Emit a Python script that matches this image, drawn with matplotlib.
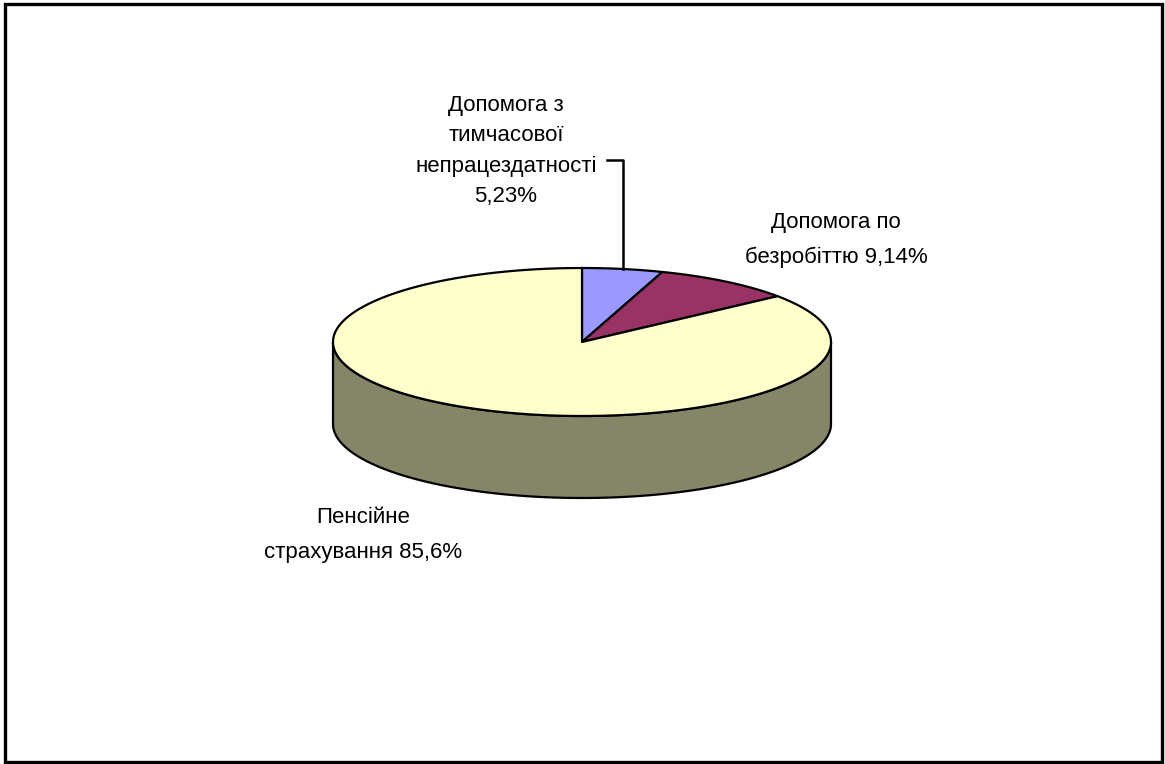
import numpy as np
import matplotlib
matplotlib.use("Agg")
import matplotlib.pyplot as plt
from matplotlib.patches import Polygon, Rectangle
from matplotlib.lines import Line2D

plt.rcParams['font.family'] = ['Liberation Sans', 'DejaVu Sans']

# Structure of social insurance spending, %
categories = ["Допомога з\nтимчасової\nнепрацездатності",
              "Допомога по\nбезробіттю",
              "Пенсійне\nстрахування"]
shares = [5.23, 9.14, 85.6]
share_text = ["5,23%", "9,14%", "85,6%"]

top_colors = ["#9999FF", "#993366", "#FFFFCC"]
side_colors = ["#5c5c99", "#5c1f3d", "#858567"]

W, H = 1165, 764
fig = plt.figure(figsize=(W / 100, H / 100), dpi=100)
ax = fig.add_axes([0, 0, 1, 1])
ax.set_xlim(0, W)
ax.set_ylim(H, 0)
ax.axis("off")

# geometry of the tilted 3D pie (pixel space)
cx, cy, a, b, depth = 582, 342, 249, 74, 82


def pt(theta, dy=0.0):
    t = np.radians(theta)
    return np.column_stack([cx + a * np.cos(t), cy - b * np.sin(t) + dy])


total = sum(shares)
spans = [s / total * 360.0 for s in shares]
starts = 90.0 - np.concatenate([[0.0], np.cumsum(spans)[:-1]])
ends = starts - np.array(spans)

# side walls (front half of the disc only)
for s, e, col in zip(starts, ends, side_colors):
    lo, hi = max(e, -180.0), min(s, 0.0)
    if hi <= lo:
        continue
    th = np.linspace(lo, hi, 200)
    top = pt(th)
    bot = pt(th[::-1], depth)
    ax.add_patch(Polygon(np.vstack([top, bot]), closed=True, facecolor=col,
                         edgecolor="black", linewidth=1.6, joinstyle="round"))

# top faces
for s, e, col in zip(starts, ends, top_colors):
    th = np.linspace(s, e, 300)
    verts = np.vstack([[cx, cy], pt(th)])
    ax.add_patch(Polygon(verts, closed=True, facecolor=col,
                         edgecolor="black", linewidth=1.6, joinstyle="round"))

# leader line for the smallest slice
mid0 = (starts[0] + ends[0]) / 2
p0 = pt(np.array([mid0]))[0]
ax.add_line(Line2D([p0[0], p0[0], p0[0] - 16], [p0[1], 160, 160],
                   color="black", linewidth=1.8))

fs = 16
ax.text(506, 151, categories[0] + "\n" + share_text[0], ha="center", va="center",
        fontsize=fs, linespacing=1.58, color="black")
ax.text(836, 240, categories[1] + " " + share_text[1], ha="center", va="center",
        fontsize=fs, linespacing=1.85, color="black")
ax.text(363, 535, categories[2] + " " + share_text[2], ha="center", va="center",
        fontsize=fs, linespacing=1.85, color="black")

# outer frame
fig.patches.append(Rectangle((4.5 / W, 2.5 / H), (W - 7.5) / W, (H - 6) / H,
                             transform=fig.transFigure, fill=False,
                             edgecolor="black", linewidth=2.4))

fig.savefig("out.png", dpi=100, facecolor="white")
